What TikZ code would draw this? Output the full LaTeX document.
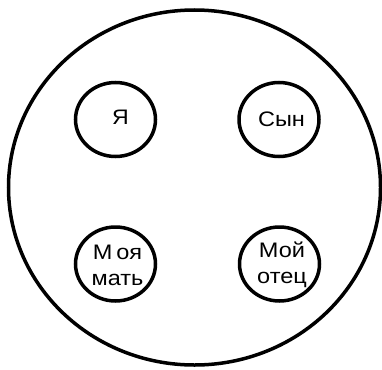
\documentclass[tikz,border=0pt]{standalone}
\usepackage{fontspec}
\setmainfont{Liberation Sans}
\usetikzlibrary{shapes.geometric}
\begin{document}
\begin{tikzpicture}[x=1pt,y=-1pt,
  ring/.style={draw=black,line width=3.5pt,ellipse,inner sep=0pt},
  small/.style={ring,minimum width=80pt,minimum height=74pt},
  lbl/.style={inner sep=0pt,align=center,font=\fontsize{21}{26}\selectfont}]
\useasboundingbox (0,0) rectangle (382,369);
\fill[white] (0,0) rectangle (382,369);
\node[ring,minimum width=372pt,minimum height=355pt] (outer) at (194.5,187.5) {};
\node[small] (c1) at (115.5,119.5) {};
\node[small] (c2) at (279,119.5) {};
\node[small] (c3) at (115.5,264) {};
\node[small] (c4) at (279.5,264) {};
\node[lbl] (t1) at (120.5,117.5) {\scalebox{1.1}[1]{Я}};
\node[lbl] (t2) at (281.5,119) {\scalebox{1.12}[1]{Сын}};
\node[lbl] (t3) at (117.5,265) {\scalebox{1.12}[1]{М\,оя}\\\scalebox{1.12}[1]{мать}};
\node[lbl] (t4) at (282,265) {\scalebox{1.12}[1]{Мой}\\\scalebox{1.12}[1]{отец}};
\end{tikzpicture}
\end{document}
